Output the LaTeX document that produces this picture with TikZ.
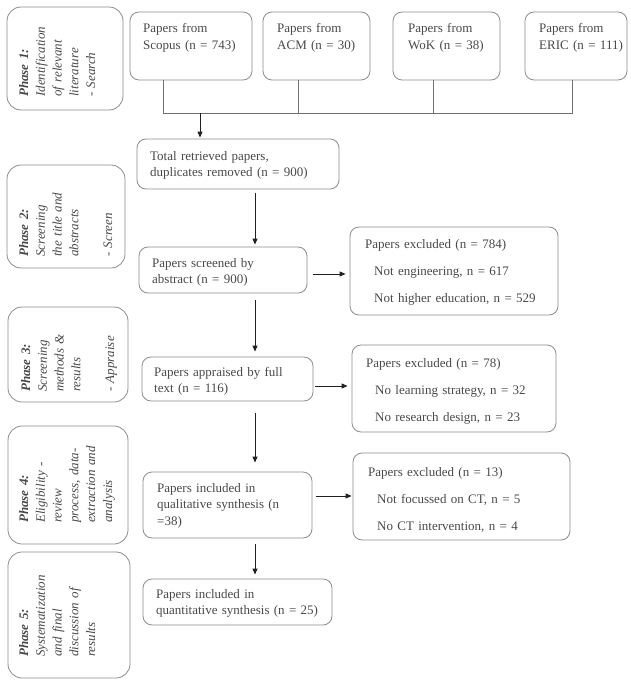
\documentclass[tikz,border=0pt]{standalone}
\usepackage{fontspec}
\setmainfont{Liberation Serif}
\usetikzlibrary{arrows.meta}
\definecolor{boxline}{HTML}{8C8C8C}
\definecolor{txt}{HTML}{484848}
\definecolor{linkc}{HTML}{707070}
\definecolor{arrowc}{HTML}{202020}
\begin{document}
\begin{tikzpicture}[x=1pt,y=-1pt,
  box/.style={draw=boxline, rounded corners=9pt, line width=0.8pt, inner sep=0pt},
  phasebox/.style={box, rounded corners=14pt},
  txtnode/.style={anchor=base west, inner sep=0pt, text=txt, text width=220pt, align=left,
    font=\fontsize{13}{16.8}\selectfont},
  phasetxt/.style={txtnode, rotate=90, text width=140pt, font=\fontsize{13}{16.8}\selectfont\itshape},
  link/.style={draw=linkc, line width=0.7pt},
  arr/.style={draw=arrowc, line width=0.9pt, -{Triangle[length=6pt,width=5pt]}}]
\useasboundingbox (0,0) rectangle (631,685);

% phase boxes
\node[phasebox, minimum width=116pt, minimum height=103pt] (p1) at (65,58.5) {};
\node[phasebox, minimum width=118pt, minimum height=103pt] (p2) at (66,216.5) {};
\node[phasebox, minimum width=120pt, minimum height=95pt] (p3) at (68,354.5) {};
\node[phasebox, minimum width=120pt, minimum height=118pt] (p4) at (68,485) {};
\node[phasebox, minimum width=122pt, minimum height=126pt] (p5) at (69,615) {};
\node[phasetxt] (p1t) at (28,97) {\textbf{Phase 1:}\\Identification\\of relevant\\literature\\- Search};
\node[phasetxt] (p2t) at (28,257) {\textbf{Phase 2:}\\Screening\\the title and\\abstracts\\\mbox{}\\- Screen};
\node[phasetxt] (p3t) at (30,392) {\textbf{Phase 3:}\\Screening\\methods \&\\results\\\mbox{}\\- Appraise};
\node[phasetxt] (p4t) at (28,523) {\textbf{Phase 4:}\\Eligibility -\\review\\process, data-\\extraction and\\analysis};
\node[phasetxt] (p5t) at (28,657) {\textbf{Phase 5:}\\Systematization\\and final\\discussion of\\results};

% source boxes
\node[box, minimum width=122pt, minimum height=68pt] (scopus) at (191,46) {};
\node[box, minimum width=107pt, minimum height=68pt] (acm) at (316.5,46) {};
\node[box, minimum width=107pt, minimum height=68pt] (wok) at (446.5,46) {};
\node[box, minimum width=102pt, minimum height=68pt] (eric) at (576,46) {};
\node[txtnode] (scopust) at (143,33) {Papers from\\Scopus (n = 743)};
\node[txtnode] (acmt) at (277,33) {Papers from\\ACM (n = 30)};
\node[txtnode] (wokt) at (408,33) {Papers from\\WoK (n = 38)};
\node[txtnode] (erict) at (539,33) {Papers from\\ERIC (n = 111)};

% main column
\node[box, minimum width=202pt, minimum height=50pt] (total) at (238,164) {};
\node[txtnode] (totalt) at (150,160) {Total retrieved papers,\\duplicates removed (n = 900)};
\node[box, minimum width=168pt, minimum height=46pt] (screened) at (223,270) {};
\node[txtnode] (screenedt) at (152,267) {Papers screened by\\abstract (n = 900)};
\node[box, minimum width=171pt, minimum height=44pt] (appraised) at (227.5,379) {};
\node[txtnode] (appraisedt) at (154,376) {Papers appraised by full\\text (n = 116)};
\node[box, minimum width=169pt, minimum height=66pt] (qual) at (227.5,505) {};
\node[txtnode, text width=150pt] (qualt) at (157,492) {Papers included in\\qualitative synthesis (n\\=38)};
\node[box, minimum width=189pt, minimum height=46pt] (quant) at (237.5,602) {};
\node[txtnode] (quantt) at (156,598) {Papers included in\\quantitative synthesis (n = 25)};

% excluded boxes
\node[box, minimum width=208pt, minimum height=88pt] (ex1) at (454,271) {};
\node[txtnode] (ex1t) at (365,248) {Papers excluded (n = 784)\\[10.5pt]\hspace*{9pt}Not engineering, n = 617\\[10.5pt]\hspace*{9pt}Not higher education, n = 529};
\node[box, minimum width=204pt, minimum height=87pt] (ex2) at (454,388.5) {};
\node[txtnode] (ex2t) at (366,367) {Papers excluded (n = 78)\\[10.5pt]\hspace*{9pt}No learning strategy, n = 32\\[10.5pt]\hspace*{9pt}No research design, n = 23};
\node[box, minimum width=217pt, minimum height=87pt] (ex3) at (461.5,496.5) {};
\node[txtnode] (ex3t) at (368,476) {Papers excluded (n = 13)\\[10.5pt]\hspace*{9pt}Not focussed on CT, n = 5\\[10.5pt]\hspace*{9pt}No CT intervention, n = 4};

% bus connectors
\coordinate (busL) at (163,113);
\coordinate (busA) at (298,113);
\coordinate (busW) at (433,113);
\coordinate (busR) at (572,113);
\coordinate (busT) at (200,113);
\draw[link] (scopus.south -| busL) -- (busL) -- (busR) -- (eric.south -| busR);
\draw[link] (acm.south -| busA) -- (busA);
\draw[link] (wok.south -| busW) -- (busW);
\draw[arr, shorten >=1pt] (busT) -- (total.north -| busT);

% vertical arrows
\coordinate (mid) at (255,0);
\draw[arr, shorten <=4pt, shorten >=2pt] (total.south -| mid) -- (screened.north -| mid);
\draw[arr, shorten <=7pt, shorten >=5pt] (screened.south -| mid) -- (appraised.north -| mid);
\draw[arr, shorten <=12pt, shorten >=9pt] (appraised.south -| mid) -- (qual.north -| mid);
\draw[arr, shorten <=6pt, shorten >=4pt] (qual.south -| mid) -- (quant.north -| mid);

% horizontal arrows
\coordinate (r1) at (0,274);
\coordinate (r2) at (0,386);
\coordinate (r3) at (0,496);
\draw[arr, shorten <=6pt, shorten >=4pt] (screened.east |- r1) -- (ex1.west |- r1);
\draw[arr, shorten <=2pt, shorten >=4pt] (appraised.east |- r2) -- (ex2.west |- r2);
\draw[arr, shorten <=4pt, shorten >=1pt] (qual.east |- r3) -- (ex3.west |- r3);
\end{tikzpicture}
\end{document}
